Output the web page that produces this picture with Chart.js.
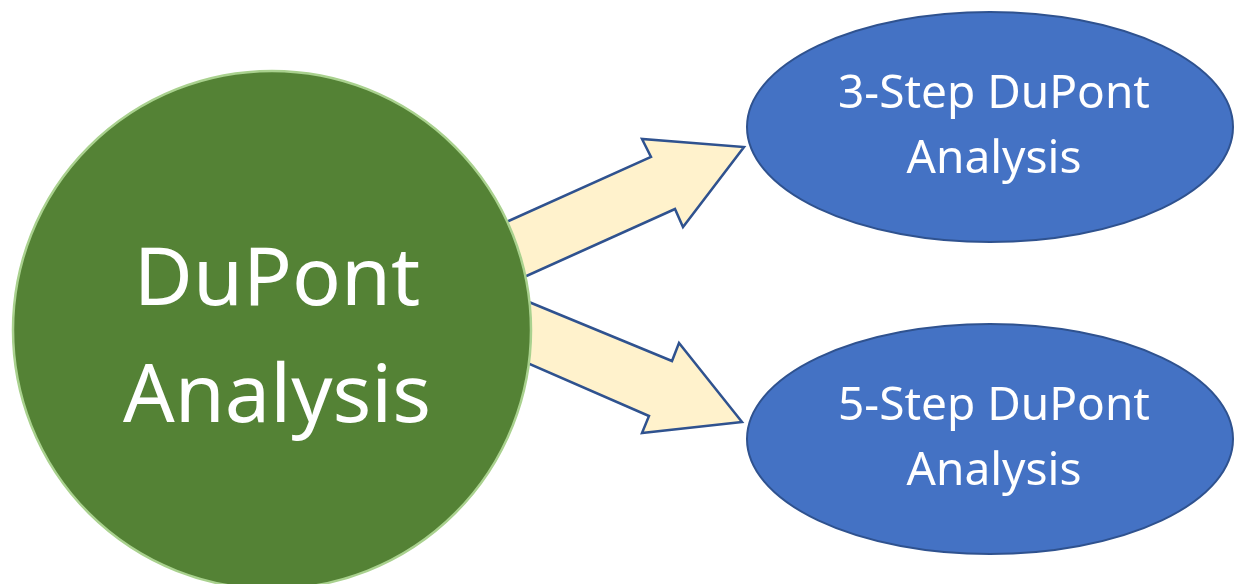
<!DOCTYPE html>
<html>
<head>
<meta charset="utf-8">
<script src="https://cdn.jsdelivr.net/npm/chart.js@4/dist/chart.umd.min.js"></script>
<style>
  html, body { margin: 0; padding: 0; background: #ffffff; }
  #wrap { width: 1235px; height: 584px; position: relative; }
</style>
</head>
<body>
<div id="wrap"><canvas id="c"></canvas></div>
<script>
// ---- Diagram data (canvas units: x 0..1235, y 0..584 from the top) ----
const nodeLabels = [["DuPont", "Analysis"], ["3-Step DuPont", "Analysis"], ["5-Step DuPont", "Analysis"]];
const nodeX = [272, 990, 990];
const nodeY = [330, 127, 439];
const nodeRx = [259, 243, 243];
const nodeRy = [259, 115, 115];

const arrowUpX = [473, 651, 642, 744, 683, 675, 491, 473];
const arrowUpY = [237, 157, 139, 147, 227, 209, 292, 237];
const arrowDownX = [495, 672, 679, 742, 642, 649, 495, 495];
const arrowDownY = [288, 361, 343, 422, 433, 416, 349, 288];

const xRange = [0, 1235];
const yRange = [0, 584];

// ---- Styles ----
const circleFill = "#548235", circleStroke = "#A9D18E";
const ellipseFill = "#4472C4", ellipseStroke = "#2F528F";
const arrowFill = "#FFF2CC", arrowStroke = "#2F528F";
const fontFamily = "'Noto Sans', 'Open Sans', sans-serif";

function pts(xs, ys) { return xs.map((x, i) => ({ x: x, y: ys[i] })); }

const nodesPlugin = {
  id: "nodes",
  afterDatasetsDraw(chart) {
    const ctx = chart.ctx;
    const xs = chart.scales.x, ys = chart.scales.y;
    ctx.save();
    for (let i = 0; i < nodeX.length; i++) {
      const cx = xs.getPixelForValue(nodeX[i]);
      const cy = ys.getPixelForValue(nodeY[i]);
      const rx = Math.abs(xs.getPixelForValue(nodeX[i] + nodeRx[i]) - cx);
      const ry = Math.abs(ys.getPixelForValue(nodeY[i] + nodeRy[i]) - cy);
      ctx.beginPath();
      ctx.ellipse(cx, cy, rx, ry, 0, 0, Math.PI * 2);
      ctx.fillStyle = i === 0 ? circleFill : ellipseFill;
      ctx.fill();
      ctx.lineWidth = i === 0 ? 2.5 : 2;
      ctx.strokeStyle = i === 0 ? circleStroke : ellipseStroke;
      ctx.stroke();
      // labels
      const big = i === 0;
      const size = big ? 81 : 46;
      const lineGap = big ? 117 : 65;
      ctx.fillStyle = "#ffffff";
      ctx.font = size + "px " + fontFamily;
      ctx.textAlign = "center";
      ctx.textBaseline = "alphabetic";
      const lines = nodeLabels[i];
      const capH = size * 0.714;
      const blockTop = cy - ((lines.length - 1) * lineGap + capH) / 2 + (big ? 4.5 : -3);
      const shiftX = big ? 5 : 4;
      lines.forEach((t, k) => {
        ctx.fillText(t, cx + shiftX, blockTop + capH + k * lineGap);
      });
    }
    ctx.restore();
  }
};

const arrowStyle = {
  showLine: true,
  fill: "shape",
  backgroundColor: arrowFill,
  borderColor: arrowStroke,
  borderWidth: 2.5,
  pointRadius: 0,
  pointHoverRadius: 0,
  tension: 0,
  borderJoinStyle: "miter"
};

new Chart(document.getElementById("c"), {
  type: "scatter",
  data: {
    datasets: [
      Object.assign({ label: "to 3-Step", data: pts(arrowUpX, arrowUpY) }, arrowStyle),
      Object.assign({ label: "to 5-Step", data: pts(arrowDownX, arrowDownY) }, arrowStyle)
    ]
  },
  options: {
    responsive: true,
    maintainAspectRatio: false,
    animation: false,
    events: [],
    layout: { padding: 0 },
    plugins: { legend: { display: false }, tooltip: { enabled: false }, title: { display: false } },
    scales: {
      x: { type: "linear", min: xRange[0], max: xRange[1], display: false },
      y: { type: "linear", min: yRange[0], max: yRange[1], reverse: true, display: false }
    }
  },
  plugins: [nodesPlugin]
});
</script>
</body>
</html>
